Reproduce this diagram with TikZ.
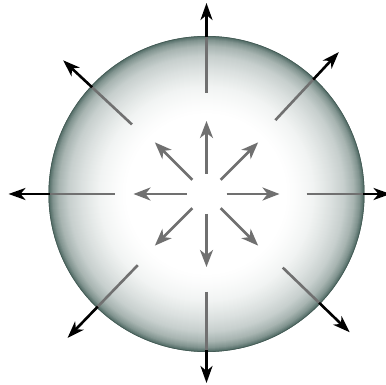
\documentclass[tikz,border=0pt]{standalone}
\usetikzlibrary{arrows.meta,calc}
\definecolor{arrgray}{RGB}{112,112,112}
\definecolor{rimcol}{RGB}{80,106,100}
\tikzset{
  grayseg/.style={draw=arrgray, line width=2.6pt},
  grayarr/.style={draw=arrgray, line width=2.6pt, -{Stealth[length=17pt,width=13pt,inset=5pt]}},
  blackarr/.style={draw=black, line width=2.6pt, -{Stealth[length=17pt,width=12pt,inset=5pt]}}
}
\begin{document}
\begin{tikzpicture}[x=1pt,y=1pt]
\useasboundingbox (0,0) rectangle (386,385);
\coordinate (c) at (206.5,191);
% sphere: concentric discs approximating a radial gradient
\foreach \r in {158,157,...,80}{
  \pgfmathsetmacro{\d}{\r>=154 ? 72+(\r-154)*7 : (\r>=148 ? 50+(\r-148)*22/6 : (\r>=138 ? 32+(\r-138)*1.8 : (\r>=125 ? 20+(\r-125)*12/13 : (\r>=108 ? 8+(\r-108)*12/17 : (\r>=90 ? 2+(\r-90)/3 : max(0,(\r-80)*0.2))))))}
  \fill[rimcol!\d!white] (c) circle[radius=\r];
}
\draw[rimcol!85!black, line width=0.6pt] (c) circle[radius=157.7];
% outer lines and arrows
\foreach \a/\rs/\rt in {90/101/191, 270/98/189, 180/92/198, 0/100/184,
                        137/102/196, 47/101/194, 226/99/200, -44/106/199}{
  \coordinate (s) at ($(c)+(\a:\rs)$);
  \coordinate (e) at ($(c)+(\a:158)$);
  \coordinate (t) at ($(c)+(\a:\rt)$);
  \draw[grayseg] (s) -- (e);
  \draw[blackarr] ($(c)+(\a:156.5)$) -- (t);
}
% inner arrows
\foreach \a in {0,45,...,315}{
  \coordinate (is) at ($(c)+(\a:20)$);
  \coordinate (it) at ($(c)+(\a:73)$);
  \draw[grayarr] (is) -- (it);
}
\end{tikzpicture}
\end{document}
